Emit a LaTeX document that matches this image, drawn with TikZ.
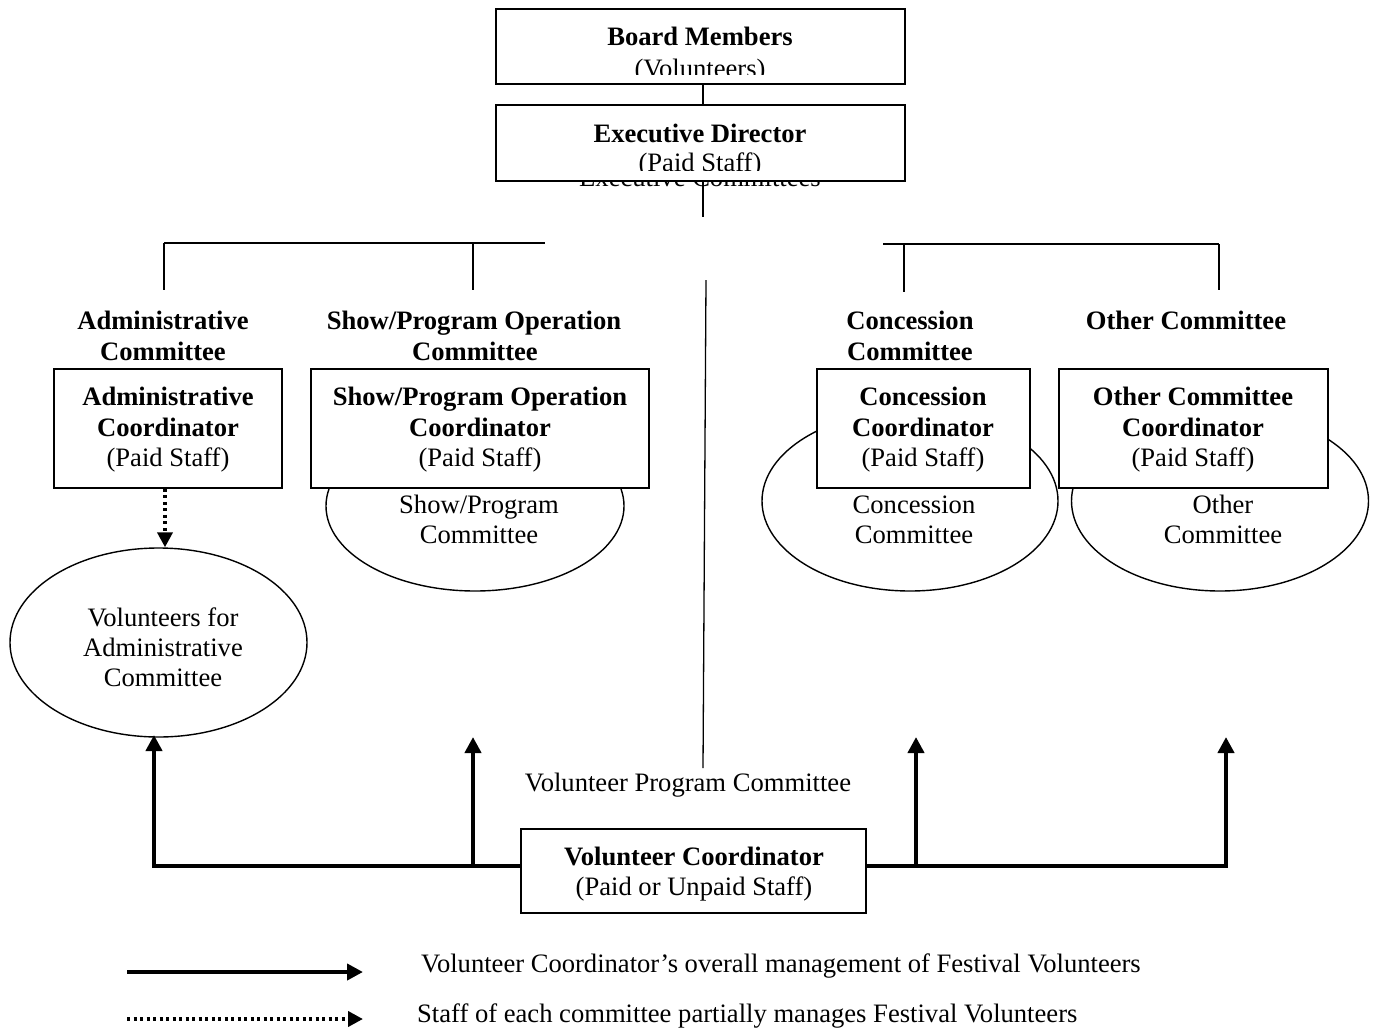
\documentclass[tikz,border=0pt]{standalone}
\usepackage{fontspec}
\setmainfont{Liberation Serif}
\usetikzlibrary{arrows.meta,shapes.geometric}
\begin{document}
\begin{tikzpicture}[x=1pt,y=-1pt,
  txt/.style={inner sep=0pt, anchor=base, font=\fontsize{26.6}{30}\selectfont},
  btxt/.style={txt, font=\fontsize{26.6}{30}\selectfont\bfseries},
  box/.style={draw, line width=1.6pt, fill=white, inner sep=0pt},
  oval/.style={draw, ellipse, line width=1.4pt, inner sep=0pt},
  thinline/.style={line width=1.3pt},
  heavy/.style={line width=4pt},
  tip/.style={-{Triangle[width=16pt,length=16pt]}},
  dottip/.style={-{Triangle[width=15pt,length=15pt]}},
  dotline/.style={line width=4pt, dash pattern=on 3pt off 3.5pt},
]
\useasboundingbox (0,0) rectangle (1376,1028);

% ---------- top of the hierarchy ----------
\node[box, minimum width=409pt, minimum height=75pt] (board) at (700.5,46.5) {};
\node[btxt] (boardT) at (700,45) {Board Members};
\begin{scope}
  \clip (496,9) rectangle (905,74);
  \node[txt] (boardS) at (700,77) {(Volunteers)};
\end{scope}

\node[txt] (execcom) at (700,186) {Executive Committees};
\node[box, minimum width=409pt, minimum height=76pt] (exec) at (700.5,143) {};
\node[btxt] (execT) at (700,142) {Executive Director};
\begin{scope}
  \clip (496,105) rectangle (905,170);
  \node[txt] (execS) at (700,171.5) {(Paid Staff)};
\end{scope}

\draw[thinline] ([xshift=2.5pt]board.south) -- ([xshift=2.5pt]exec.north);
\coordinate (hub) at (703,217);
\draw[thinline] (exec.south -| hub) -- (hub);

% ---------- branch bars ----------
\coordinate (barLa) at (164,243);
\coordinate (barLb) at (545,243);
\coordinate (barRa) at (883,244);
\coordinate (barRb) at (1219,244);
\coordinate (dropA) at (164,290);
\coordinate (dropB) at (473,290);
\coordinate (dropC) at (904,292);
\coordinate (dropD) at (1219,290);
\draw[thinline] (barLa) -- (barLb);
\draw[thinline] (barRa) -- (barRb);
\draw[thinline] (barLa) -- (dropA);
\draw[thinline] (dropB |- barLa) -- (dropB);
\draw[thinline] (dropC |- barRa) -- (dropC);
\draw[thinline] (barRb) -- (dropD);

% ---------- committee headings ----------
\node[btxt] (hAdm1) at (163,329) {Administrative};
\node[btxt] (hAdm2) at (163,360) {Committee};
\node[btxt] (hShow1) at (474,329) {Show/Program Operation};
\node[btxt] (hShow2) at (475,360) {Committee};
\node[btxt] (hCon1) at (910,329) {Concession};
\node[btxt] (hCon2) at (910,360) {Committee};
\node[btxt] (hOth1) at (1186,329) {Other Committee};

% ---------- committee groups (ovals behind coordinators) ----------
\node[oval, minimum width=298pt, minimum height=170pt] (showv) at (475,506) {};
\node[oval, minimum width=296pt, minimum height=180pt] (concv) at (910,501) {};
\node[oval, minimum width=297pt, minimum height=180pt] (othv) at (1220,501) {};
\node[oval, minimum width=297pt, minimum height=189pt] (admv) at (158.5,642.5) {};

% ---------- coordinators ----------
\node[box, minimum width=228pt, minimum height=119pt] (admc) at (168,428.5) {};
\node[box, minimum width=338pt, minimum height=119pt] (showc) at (480,428.5) {};
\node[box, minimum width=213pt, minimum height=119pt] (concc) at (923.5,428.5) {};
\node[box, minimum width=269pt, minimum height=119pt] (othc) at (1193.5,428.5) {};

\node[btxt] (admc1) at (168,405) {Administrative};
\node[btxt] (admc2) at (168,436) {Coordinator};
\node[txt]  (admc3) at (168,466) {(Paid Staff)};
\node[btxt] (showc1) at (480,405) {Show/Program Operation};
\node[btxt] (showc2) at (480,436) {Coordinator};
\node[txt]  (showc3) at (480,466) {(Paid Staff)};
\node[btxt] (concc1) at (923,405) {Concession};
\node[btxt] (concc2) at (923,436) {Coordinator};
\node[txt]  (concc3) at (923,466) {(Paid Staff)};
\node[btxt] (othc1) at (1193,405) {Other Committee};
\node[btxt] (othc2) at (1193,436) {Coordinator};
\node[txt]  (othc3) at (1193,466) {(Paid Staff)};

% ---------- oval labels ----------
\node[txt] (showv1) at (479,513) {Show/Program};
\node[txt] (showv2) at (479,543) {Committee};
\node[txt] (concv1) at (914,513) {Concession};
\node[txt] (concv2) at (914,543) {Committee};
\node[txt] (othv1) at (1223,513) {Other};
\node[txt] (othv2) at (1223,543) {Committee};
\node[txt] (admv1) at (163,626) {Volunteers for};
\node[txt] (admv2) at (163,656) {Administrative};
\node[txt] (admv3) at (163,686) {Committee};

% partial management by committee staff
\draw[dotline, dottip] ([xshift=-3pt]admc.south) -- ([xshift=-3pt]admc.south |- admv.north);

% ---------- volunteer program ----------
\coordinate (vpTop) at (706,280);
\coordinate (vpBot) at (703,768);
\draw[thinline] (vpTop) -- (vpBot);
\node[txt] (vpc) at (688,791) {Volunteer Program Committee};

\node[box, minimum width=345pt, minimum height=84pt] (vc) at (693.5,871) {};
\node[btxt] (vc1) at (694,865) {Volunteer Coordinator};
\node[txt]  (vc2) at (694,895) {(Paid or Unpaid Staff)};

% overall management by the volunteer coordinator
\coordinate (bar) at (0,866);
\coordinate (arrA) at (154,735);
\coordinate (arrB) at (473,737);
\coordinate (arrC) at (916,737);
\coordinate (arrD) at (1226,737);
\draw[heavy, tip] ([yshift=5pt]vc.west) -| (arrA);
\draw[heavy, tip] (arrB |- bar) -- (arrB);
\draw[heavy, tip] ([yshift=5pt]vc.east) -| (arrD);
\draw[heavy, tip] (arrC |- bar) -- (arrC);

% ---------- legend ----------
\coordinate (lg1a) at (127,972);
\coordinate (lg1b) at (363,972);
\coordinate (lg2a) at (127,1019);
\coordinate (lg2b) at (363,1019);
\draw[heavy, tip] (lg1a) -- (lg1b);
\draw[dotline, dottip] (lg2a) -- (lg2b);
\node[txt, anchor=base west] (lg1t) at (421,972) {Volunteer Coordinator’s overall management of Festival Volunteers};
\node[txt, anchor=base west] (lg2t) at (417,1022) {Staff of each committee partially manages Festival Volunteers};
\end{tikzpicture}
\end{document}
